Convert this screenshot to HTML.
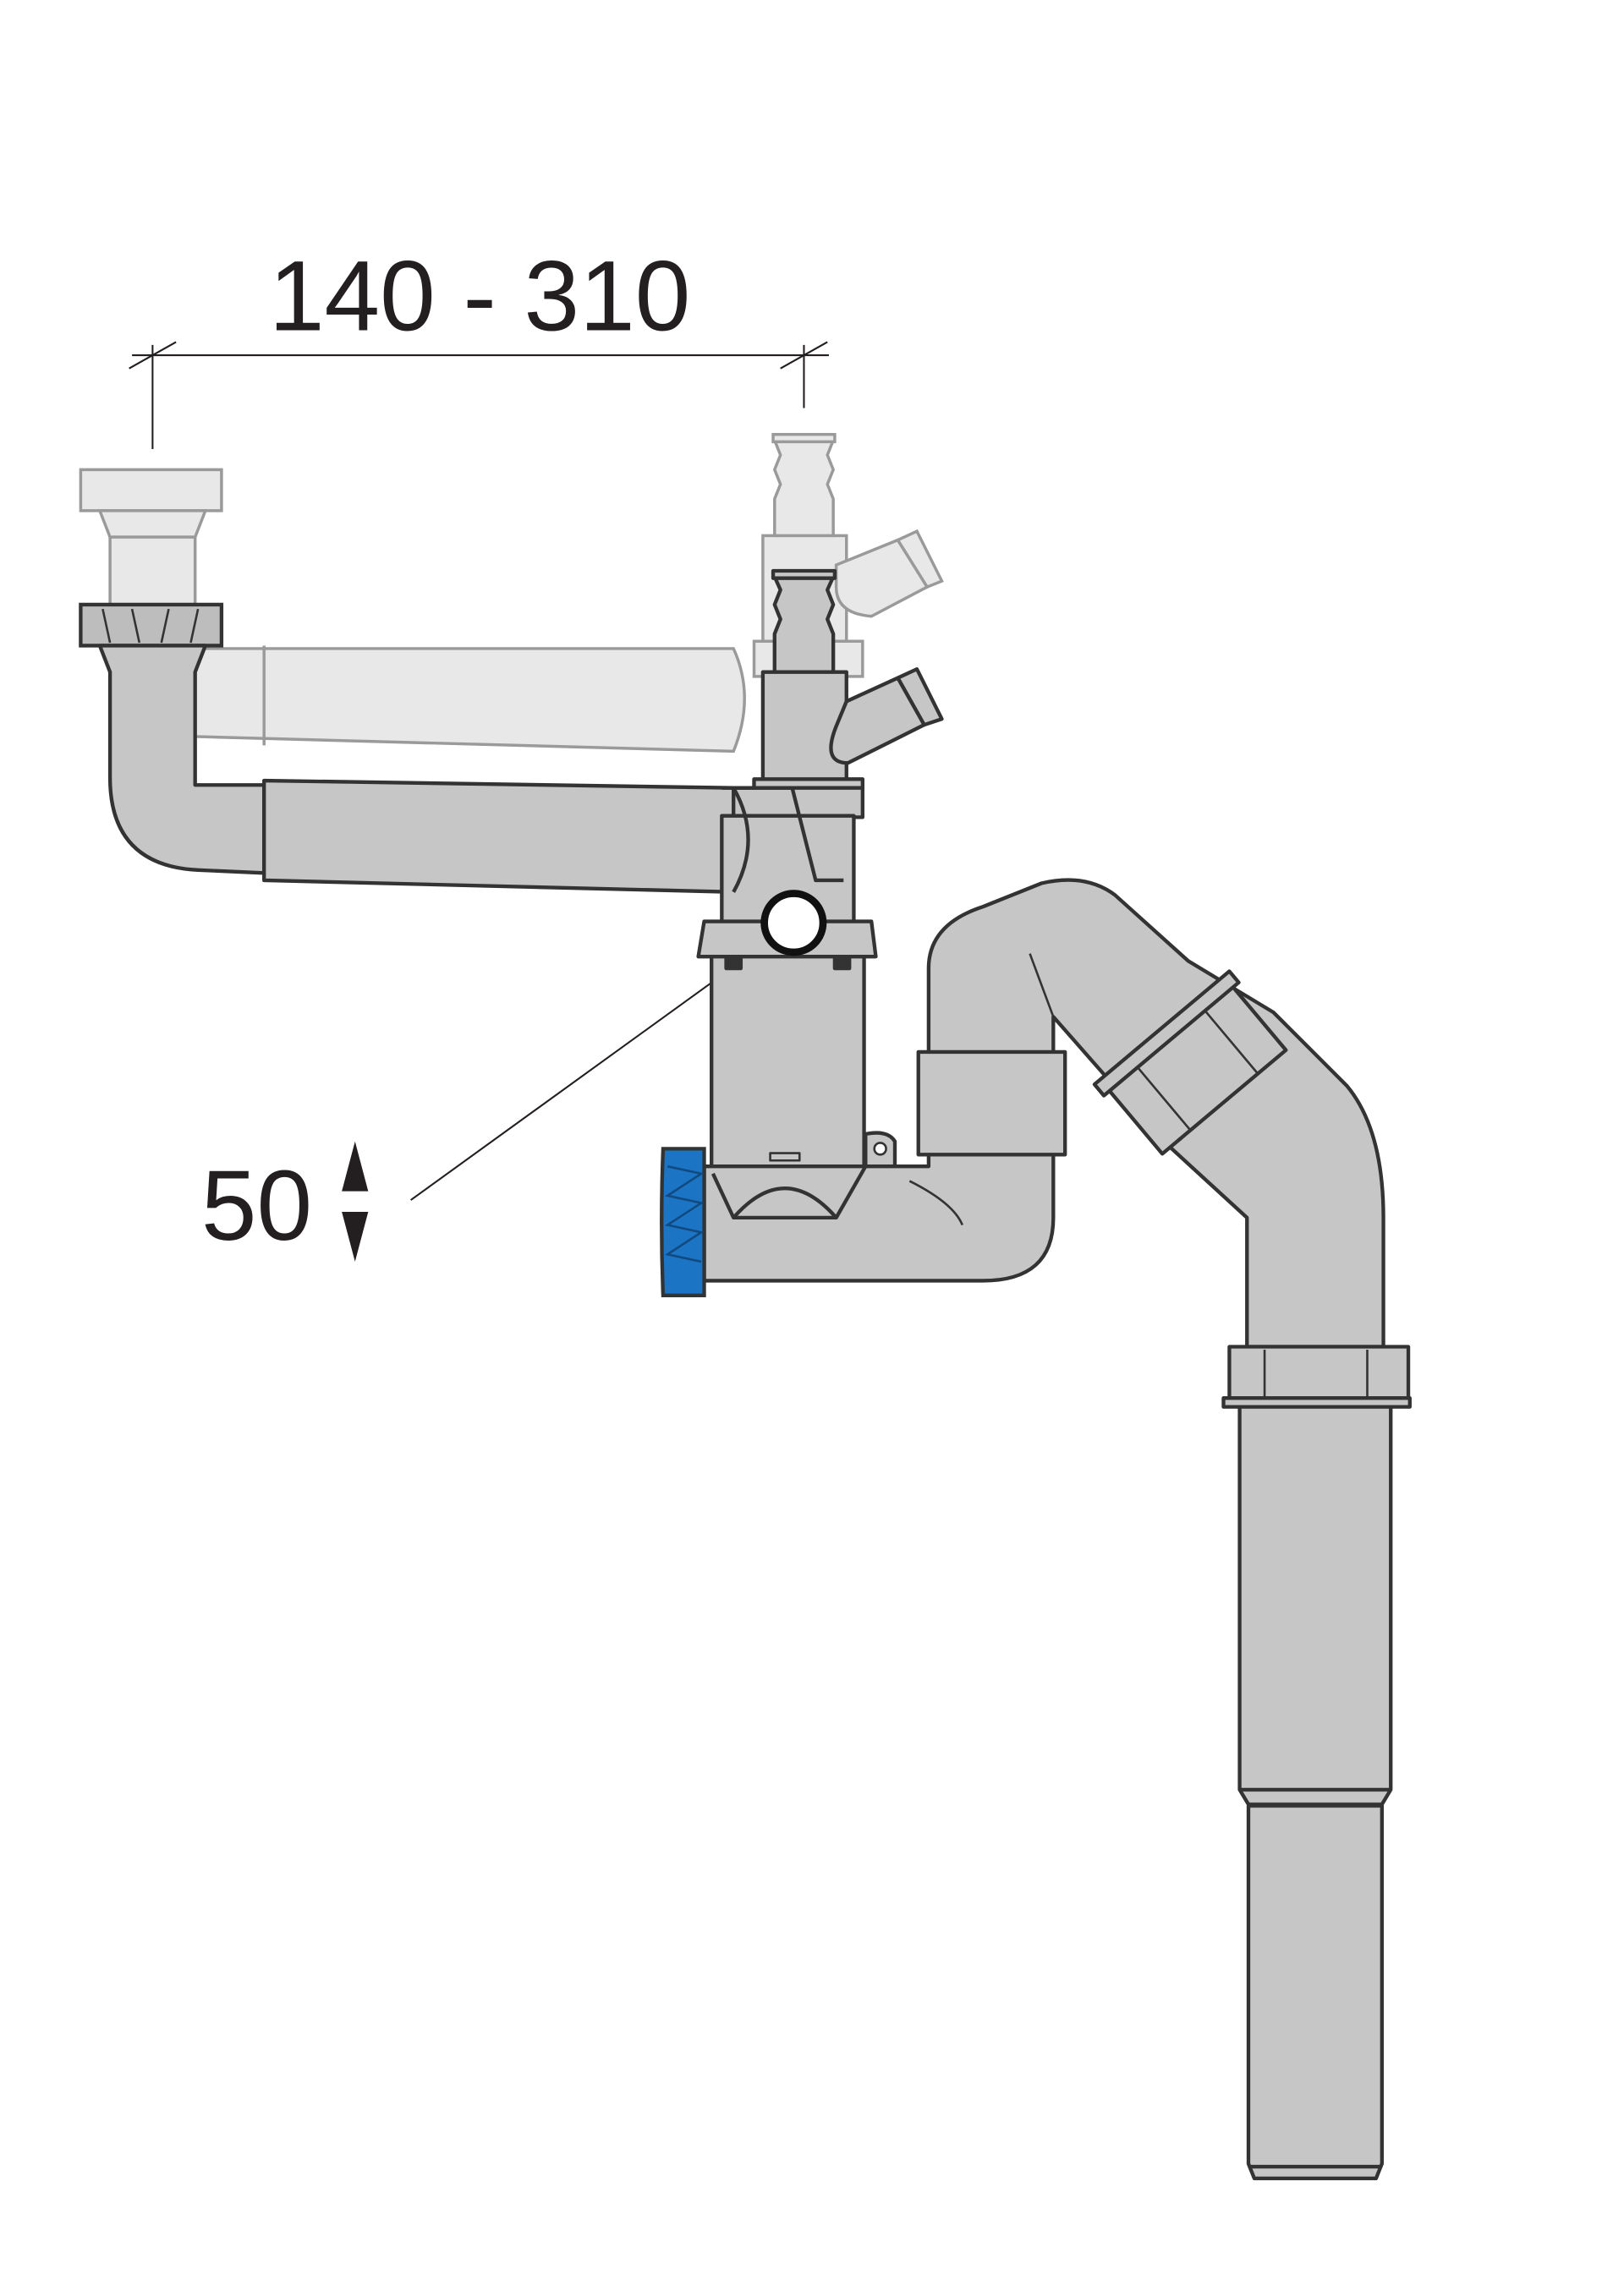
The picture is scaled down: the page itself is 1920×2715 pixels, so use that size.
<!DOCTYPE html>
<html><head><meta charset="utf-8"><style>html,body{margin:0;padding:0;background:#fff}svg{display:block}</style></head>
<body>
<svg width="1920" height="2715" viewBox="0 0 1107 1565" xmlns="http://www.w3.org/2000/svg">
<rect width="1107" height="1565" fill="#fff"/>
<text x="327" y="225" font-family="Liberation Sans, sans-serif" font-size="68" text-anchor="middle" fill="#231f20">140 - 310</text>
<g stroke="#231f20" stroke-width="1.2">
<line x1="90" y1="242" x2="565" y2="242"/>
<line x1="104" y1="235" x2="104" y2="306"/>
<line x1="548" y1="235" x2="548" y2="278"/>
<line x1="88" y1="251" x2="120" y2="233"/>
<line x1="532" y1="251" x2="564" y2="233"/>
<line x1="280" y1="818" x2="522" y2="643"/>
</g>
<text x="175" y="845" font-family="Liberation Sans, sans-serif" font-size="68" text-anchor="middle" fill="#231f20">50</text>
<path d="M242 778 L251 812 L233 812 Z M242 860 L251 826 L233 826 Z" fill="#231f20"/>

<g fill="#e8e8e8" stroke="#9a9a9a" stroke-width="2">
<path d="M133 442 L500 442 Q515 475 500 512 L133 502 Z"/>
<path d="M180 440 L180 508"/>
<path d="M55 320 H151 V348 H55 Z"/>
<path d="M68 348 H140 L133 366 H75 Z"/>
<rect x="75" y="366" width="58" height="46"/>
<rect x="520" y="365" width="57" height="75"/>
<rect x="514" y="437" width="74" height="24"/>
<path d="M528 300 H568 L564 310 L568 320 L564 330 L568 340 V365 H528 V340 L532 330 L528 320 L532 310 Z"/>
<rect x="527" y="296" width="42" height="5"/>
<path d="M570 385 L612 368 L632 400 L594 420 Q570 418 570 400 Z"/>
<path d="M612 368 L625 362 L642 396 L632 400 Z"/>
</g>
<path d="M55 412 H151 V440 H55 Z" fill="#bdbdbd" stroke="#333" stroke-width="2.5"/>
<path d="M70 415 L75 438 M90 415 L95 438 M115 415 L110 438 M135 415 L130 438" stroke="#333" stroke-width="1.5"/>

<g fill="#c6c6c6" stroke="#333" stroke-width="2.5" stroke-linejoin="round">
<path d="M68 440 H140 L133 458 V535 H180 V595 L135 593 Q75 590 75 530 V458 Z"/>
<path d="M180 532 L500 537 Q520 572 500 608 L180 600 Z"/>
<path d="M528 393 H568 L564 402 L568 412 L564 422 L568 432 V458 H528 V432 L532 422 L528 412 L532 402 Z"/>
<rect x="527" y="389" width="42" height="5"/>
<rect x="520" y="458" width="57" height="75"/>
<path d="M577 478 L612 462 L630 494 L578 520 Q560 520 570 495 Z"/>
<path d="M612 462 L625 456 L642 490 L630 494 Z"/>
<rect x="514" y="531" width="74" height="6"/>
<rect x="500" y="537" width="88" height="20"/>
<rect x="492" y="556" width="90" height="74"/>
<path d="M492 537 L540 537 L556 600 L575 600" fill="none"/>
<path d="M500 537 Q520 572 500 608" fill="none"/>
<path d="M480 628 H594 L597 652 H476 Z"/>
<rect x="485" y="652" width="104" height="145"/>
<rect x="495" y="652" width="10" height="8" fill="#333"/>
<rect x="569" y="652" width="10" height="8" fill="#333"/>
<path d="M590 795 V773 Q605 770 610 778 V795 Z"/>
<circle cx="600" cy="783" r="4" fill="#fff" stroke-width="1.5"/>
<rect x="525" y="786" width="20" height="5" stroke-width="1.5"/>
<path d="M633 660 Q633 630 670 618 L710 602 Q740 595 760 610 L810 655 L868 690 L918 740 Q943 770 943 830 V918 H850 V830 L790 775 L718 693 V830 Q718 873 670 873 H480 V795 H633 Z"/>
<path d="M486 800 L500 830 Q535 790 570 830 L590 795" fill="none"/>
<path d="M500 830 H570" fill="none"/>
<path d="M620 805 Q650 820 656 835 M702 650 L718 693" fill="none" stroke-width="1.5"/>
<rect x="626" y="717" width="100" height="70"/>
<g transform="translate(810 722) rotate(-40)">
<rect x="-55" y="-22" width="110" height="60"/>
<rect x="-60" y="-28" width="120" height="10"/>
<line x1="-30" y1="-18" x2="-30" y2="38" stroke-width="1.5"/>
<line x1="30" y1="-18" x2="30" y2="38" stroke-width="1.5"/>
</g>
<rect x="838" y="918" width="122" height="36"/>
<rect x="834" y="953" width="127" height="6"/>
<line x1="862" y1="920" x2="862" y2="952" stroke-width="1.5"/>
<line x1="932" y1="920" x2="932" y2="952" stroke-width="1.5"/>
<path d="M845 959 H948 V1220 L942 1230 H851 L845 1220 Z"/>
<path d="M845 1220 H948"/>
<path d="M851 1231 H942 V1475 L938 1485 H855 L851 1475 Z"/>
<path d="M851 1477 H942"/>
</g>
<path d="M452 783 H480 V883 H452 Q450 833 452 783 Z" fill="#1b74c4" stroke="#333" stroke-width="2.5"/>
<path d="M455 795 L478 800 L455 815 L478 820 L455 835 L478 840 L455 855 L478 860" fill="none" stroke="#114a80" stroke-width="1.5"/>
<circle cx="541" cy="629" r="20" fill="#fff" stroke="#111" stroke-width="5"/>
</svg>
</body></html>
